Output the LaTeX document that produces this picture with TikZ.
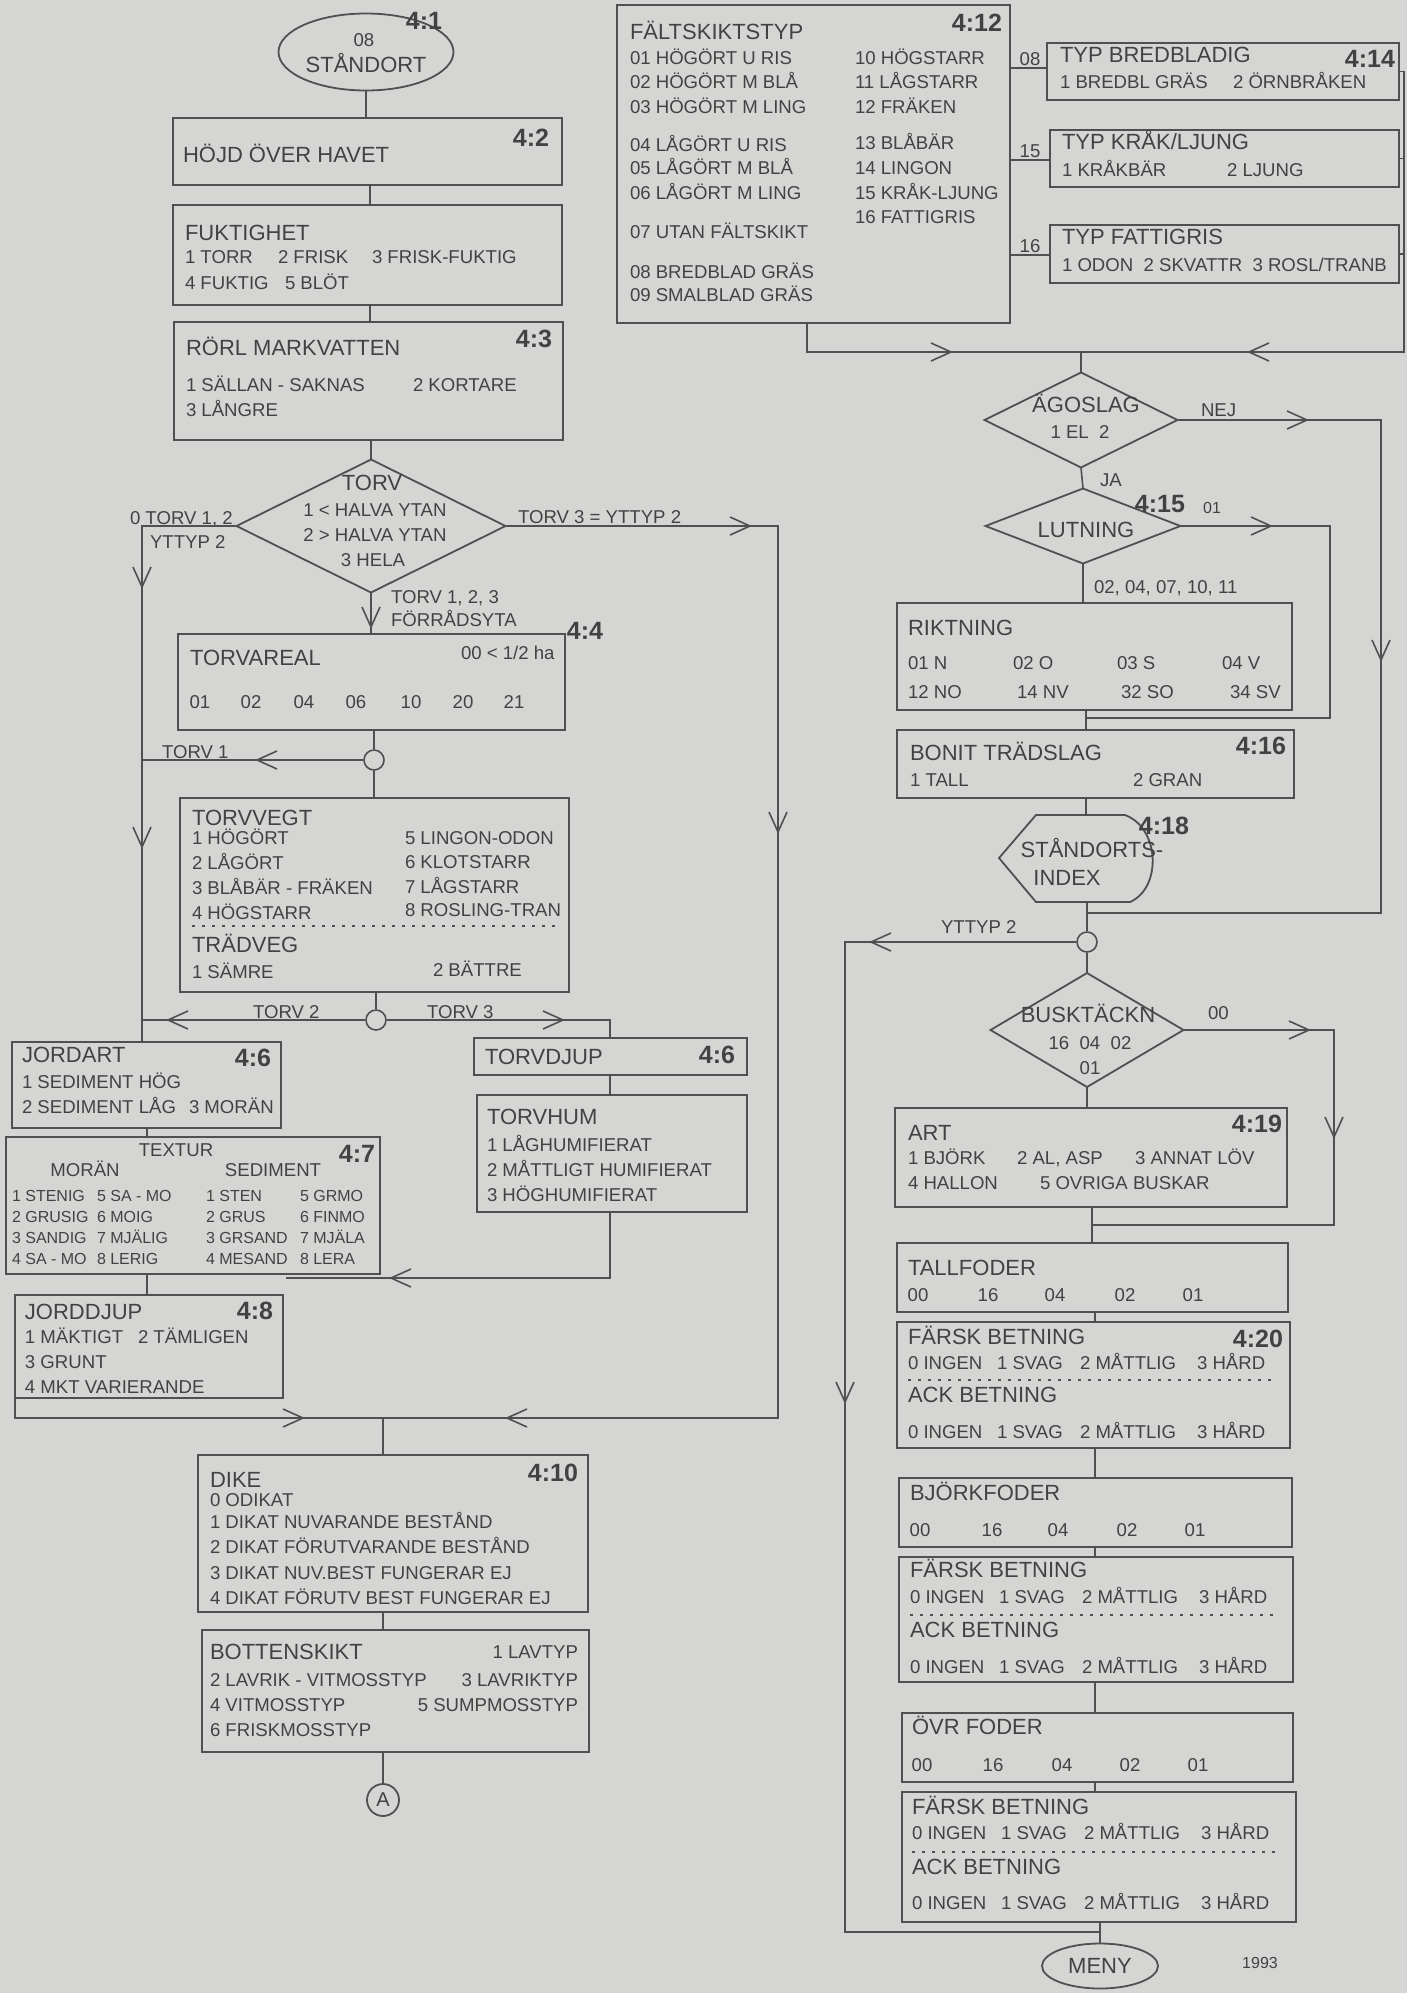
\documentclass[tikz,border=0pt]{standalone}
\usepackage{fontspec}
\setmainfont{Liberation Sans}
\usetikzlibrary{shapes.geometric,fit}
\definecolor{bg}{RGB}{213,213,211}
\definecolor{ink}{RGB}{66,66,66}
\definecolor{ln}{RGB}{80,80,80}
\newcounter{tn}
\newcommand\mytx[4]{\stepcounter{tn}\node[#1] (t\thetn) at (#2,#3) {#4};}
\newcommand\mybx[5]{\node[box, fit={(#2,#3) (#4,#5)}] (#1) {};}
\newcommand\mychv[3]{\pic[rotate=#1] at (#2,#3) {chev};}
\begin{document}
\begin{tikzpicture}[x=0.5pt,y=-0.5pt,
  box/.style={draw=ln, line width=0.9pt, inner sep=0pt, outer sep=0pt, rectangle},
  con/.style={draw=ln, line width=0.8pt},
  base/.style={text=ink, inner sep=0pt, outer sep=0pt, text depth=0pt},
  T/.style={base, anchor=west, font=\fontsize{11}{13}\selectfont, text height=7.9pt},
  TC/.style={T, anchor=center},
  R/.style={base, anchor=west, font=\fontsize{9.3}{11}\selectfont, text height=6.7pt},
  RC/.style={R, anchor=center},
  RE/.style={R, anchor=east},
  S/.style={base, anchor=west, font=\fontsize{8}{10}\selectfont, text height=5.7pt},
  SC/.style={S, anchor=center},
  N/.style={base, anchor=center, font=\bfseries\fontsize{12.5}{14}\selectfont, text height=9pt},
  jc/.style={circle, draw=ln, line width=0.8pt, minimum size=10pt, inner sep=0pt},
  dia/.style={diamond, draw=ln, line width=0.9pt, inner sep=0pt, outer sep=0pt},
  dots/.style={draw=ln, line width=0.6pt, dash pattern=on 1.5pt off 3.5pt},
  chev/.pic={\draw[ln, line width=0.8pt] (-10,-9) -- (10,0) -- (-10,9);}
]
\fill[bg] (0,0) rectangle (1407,1993);
\useasboundingbox (0,0) rectangle (1407,1993);

% ================= LEFT COLUMN =================
\node[ellipse, draw=ln, line width=0.9pt, minimum width=87.5pt, minimum height=38.5pt, inner sep=0pt] (st) at (366,52) {};
\mytx{RC}{364}{40}{08}
\mytx{TC}{366}{65}{STÅNDORT}
\mytx{N}{424}{20}{4:1}

\mybx{hojd}{173}{118}{562}{185}
\mytx{T}{183}{155}{HÖJD ÖVER HAVET}
\mytx{N}{531}{137}{4:2}

\mybx{fukt}{173}{205}{562}{305}
\mytx{T}{185}{233}{FUKTIGHET}
\mytx{R}{185}{257}{1 TORR}
\mytx{R}{278}{257}{2 FRISK}
\mytx{R}{372}{257}{3 FRISK-FUKTIG}
\mytx{R}{185}{283}{4 FUKTIG}
\mytx{R}{285}{283}{5 BLÖT}

\mybx{rorl}{174}{322}{563}{440}
\mytx{T}{186}{348}{RÖRL MARKVATTEN}
\mytx{N}{534}{338}{4:3}
\mytx{R}{186}{385}{1 SÄLLAN - SAKNAS}
\mytx{R}{413}{385}{2 KORTARE}
\mytx{R}{186}{410}{3 LÅNGRE}

\node[dia, minimum width=134.5pt, minimum height=66.5pt] (torv) at (371,526) {};
\mytx{TC}{372}{483}{TORV}
\mytx{RC}{375}{510}{1 < HALVA YTAN}
\mytx{RC}{375}{535}{2 > HALVA YTAN}
\mytx{RC}{373}{560}{3 HELA}
\mytx{R}{130}{518}{0 TORV 1, 2}
\mytx{R}{150}{542}{YTTYP 2}
\mytx{R}{518}{517}{TORV 3 = YTTYP 2}
\mytx{R}{391}{597}{TORV 1, 2, 3}
\mytx{R}{391}{620}{FÖRRÅDSYTA}
\mytx{N}{585}{630}{4:4}

\mybx{tarea}{178}{634}{565}{730}
\mytx{T}{190}{658}{TORVAREAL}
\mytx{R}{461}{653}{00 < 1/2 ha}
\mytx{RC}{200}{702}{01}
\mytx{RC}{251}{702}{02}
\mytx{RC}{304}{702}{04}
\mytx{RC}{356}{702}{06}
\mytx{RC}{411}{702}{10}
\mytx{RC}{463}{702}{20}
\mytx{RC}{514}{702}{21}

\node[jc] (c1) at (374,760) {};
\mytx{R}{162}{752}{TORV 1}

\mybx{tveg}{180}{798}{569}{992}
\mytx{T}{192}{818}{TORVVEGT}
\mytx{R}{192}{838}{1 HÖGÖRT}
\mytx{R}{192}{863}{2 LÅGÖRT}
\mytx{R}{192}{888}{3 BLÅBÄR - FRÄKEN}
\mytx{R}{192}{913}{4 HÖGSTARR}
\mytx{R}{405}{838}{5 LINGON-ODON}
\mytx{R}{405}{862}{6 KLOTSTARR}
\mytx{R}{405}{887}{7 LÅGSTARR}
\mytx{R}{405}{910}{8 ROSLING-TRAN}
\draw[dots] (192,926) -- (560,926);
\mytx{T}{192}{945}{TRÄDVEG}
\mytx{R}{192}{972}{1 SÄMRE}
\mytx{R}{433}{970}{2 BÄTTRE}

\node[jc] (c2) at (376,1020) {};
\mytx{R}{253}{1012}{TORV 2}
\mytx{R}{427}{1012}{TORV 3}

\mybx{jart}{12}{1042}{281}{1128}
\mytx{T}{22}{1055}{JORDART}
\mytx{N}{253}{1057}{4:6}
\mytx{R}{22}{1082}{1 SEDIMENT HÖG}
\mytx{R}{22}{1107}{2 SEDIMENT LÅG}
\mytx{R}{189}{1107}{3 MORÄN}

\mybx{tdj}{474}{1038}{747}{1075}
\mytx{T}{485}{1057}{TORVDJUP}
\mytx{N}{717}{1054}{4:6}

\mybx{thum}{477}{1095}{747}{1212}
\mytx{T}{487}{1117}{TORVHUM}
\mytx{R}{487}{1145}{1 LÅGHUMIFIERAT}
\mytx{R}{487}{1170}{2 MÅTTLIGT HUMIFIERAT}
\mytx{R}{487}{1195}{3 HÖGHUMIFIERAT}

\mybx{tex}{6}{1137}{380}{1274}
\mytx{RC}{176}{1150}{TEXTUR}
\mytx{N}{357}{1153}{4:7}
\mytx{RC}{85}{1170}{MORÄN}
\mytx{RC}{273}{1170}{SEDIMENT}
\mytx{S}{12}{1196}{1 STENIG}
\mytx{S}{97}{1196}{5 SA - MO}
\mytx{S}{206}{1196}{1 STEN}
\mytx{S}{300}{1196}{5 GRMO}
\mytx{S}{12}{1217}{2 GRUSIG}
\mytx{S}{97}{1217}{6 MOIG}
\mytx{S}{206}{1217}{2 GRUS}
\mytx{S}{300}{1217}{6 FINMO}
\mytx{S}{12}{1238}{3 SANDIG}
\mytx{S}{97}{1238}{7 MJÄLIG}
\mytx{S}{206}{1238}{3 GRSAND}
\mytx{S}{300}{1238}{7 MJÄLA}
\mytx{S}{12}{1259}{4 SA - MO}
\mytx{S}{97}{1259}{8 LERIG}
\mytx{S}{206}{1259}{4 MESAND}
\mytx{S}{300}{1259}{8 LERA}

\mybx{jdj}{15}{1295}{283}{1398}
\mytx{T}{25}{1312}{JORDDJUP}
\mytx{N}{255}{1310}{4:8}
\mytx{R}{25}{1337}{1 MÄKTIGT}
\mytx{R}{138}{1337}{2 TÄMLIGEN}
\mytx{R}{25}{1362}{3 GRUNT}
\mytx{R}{25}{1387}{4 MKT VARIERANDE}

\mybx{dike}{198}{1455}{588}{1612}
\mytx{T}{210}{1480}{DIKE}
\mytx{N}{553}{1472}{4:10}
\mytx{R}{210}{1500}{0 ODIKAT}
\mytx{R}{210}{1522}{1 DIKAT NUVARANDE BESTÅND}
\mytx{R}{210}{1547}{2 DIKAT FÖRUTVARANDE BESTÅND}
\mytx{R}{210}{1573}{3 DIKAT NUV.BEST FUNGERAR EJ}
\mytx{R}{210}{1598}{4 DIKAT FÖRUTV BEST FUNGERAR EJ}

\mybx{bot}{202}{1630}{589}{1752}
\mytx{T}{210}{1652}{BOTTENSKIKT}
\mytx{RE}{578}{1652}{1 LAVTYP}
\mytx{R}{210}{1680}{2 LAVRIK - VITMOSSTYP}
\mytx{RE}{578}{1680}{3 LAVRIKTYP}
\mytx{R}{210}{1705}{4 VITMOSSTYP}
\mytx{RE}{578}{1705}{5 SUMPMOSSTYP}
\mytx{R}{210}{1730}{6 FRISKMOSSTYP}

\node[circle, draw=ln, line width=0.9pt, minimum size=16pt, inner sep=0pt, text=ink, font=\fontsize{10}{12}\selectfont] (A) at (383,1800) {A};

% left connectors
\coordinate (xc) at (370,0);
\coordinate (xl) at (142,0);
\coordinate (xr) at (778,0);
\coordinate (jd) at (383,1418);
\coordinate (xt) at (610,0);
\coordinate (jt) at (286,1278);
\coordinate (xj) at (147,0);
\draw[con] (st.south) -- (st.south |- hojd.north);
\draw[con] (hojd.south -| xc) -- (fukt.north -| xc);
\draw[con] (fukt.south -| xc) -- (rorl.north -| xc);
\draw[con] (rorl.south -| torv.north) -- (torv.north);
\draw[con] (torv.west) -| (jart.north -| xl);
\draw[con] (torv.east) -| (xr |- jd) -- (jd);
\draw[con] (torv.south) -- (torv.south |- tarea.north);
\draw[con] (tarea.south -| c1) -- (c1.north);
\draw[con] (c1.south) -- (c1.south |- tveg.north);
\draw[con] (c1.west) -- (c1.west -| xl);
\draw[con] (tveg.south -| c2) -- (c2.north);
\draw[con] (c2.west) -- (c2.west -| xl);
\draw[con] (c2.east) -| (tdj.north -| xt);
\draw[con] (tdj.south -| xt) -- (thum.north -| xt);
\draw[con] (thum.south -| xt) |- (jt);
\draw[con] (jart.south -| xj) -- (tex.north -| xj);
\draw[con] (tex.south -| xj) -- (jdj.north -| xj);
\draw[con] (jdj.south west) |- (jd);
\draw[con] (jd) -- (dike.north -| jd);
\draw[con] (dike.south -| jd) -- (bot.north -| jd);
\draw[con] (bot.south -| jd) -- (A.north);

\mychv{-90}{142}{577}
\mychv{-90}{142}{837}
\mychv{0}{740}{526}
\mychv{-90}{778}{822}
\mychv{180}{517}{1418}
\mychv{0}{293}{1418}
\mychv{-90}{371}{617}
\mychv{180}{267}{760}
\mychv{180}{178}{1020}
\mychv{0}{553}{1020}
\mychv{180}{401}{1278}

% ================= RIGHT COLUMN =================
\mybx{falt}{617}{5}{1010}{323}
\mytx{T}{630}{32}{FÄLTSKIKTSTYP}
\mytx{N}{977}{22}{4:12}
\mytx{R}{630}{58}{01 HÖGÖRT U RIS}
\mytx{R}{630}{82}{02 HÖGÖRT M BLÅ}
\mytx{R}{630}{107}{03 HÖGÖRT M LING}
\mytx{R}{630}{145}{04 LÅGÖRT U RIS}
\mytx{R}{630}{168}{05 LÅGÖRT M BLÅ}
\mytx{R}{630}{193}{06 LÅGÖRT M LING}
\mytx{R}{630}{232}{07 UTAN FÄLTSKIKT}
\mytx{R}{630}{272}{08 BREDBLAD GRÄS}
\mytx{R}{630}{295}{09 SMALBLAD GRÄS}
\mytx{R}{855}{58}{10 HÖGSTARR}
\mytx{R}{855}{82}{11 LÅGSTARR}
\mytx{R}{855}{107}{12 FRÄKEN}
\mytx{R}{855}{143}{13 BLÅBÄR}
\mytx{R}{855}{168}{14 LINGON}
\mytx{R}{855}{193}{15 KRÅK-LJUNG}
\mytx{R}{855}{217}{16 FATTIGRIS}

\mybx{typ1}{1047}{43}{1399}{100}
\mytx{T}{1060}{55}{TYP BREDBLADIG}
\mytx{N}{1370}{58}{4:14}
\mytx{R}{1060}{82}{1 BREDBL GRÄS}
\mytx{R}{1233}{82}{2 ÖRNBRÅKEN}
\mybx{typ2}{1050}{130}{1399}{187}
\mytx{T}{1062}{142}{TYP KRÅK/LJUNG}
\mytx{R}{1062}{170}{1 KRÅKBÄR}
\mytx{R}{1227}{170}{2 LJUNG}
\mybx{typ3}{1050}{225}{1399}{283}
\mytx{T}{1062}{237}{TYP FATTIGRIS}
\mytx{R}{1062}{265}{1 ODON\ \ 2 SKVATTR\ \ 3 ROSL/TRANB}
\mytx{RC}{1030}{59}{08}
\mytx{RC}{1030}{151}{15}
\mytx{RC}{1030}{246}{16}

\node[dia, minimum width=96.5pt, minimum height=47.5pt] (ago) at (1081,420) {};
\mytx{TC}{1086}{405}{ÄGOSLAG}
\mytx{RC}{1080}{432}{1 EL\ \ 2}
\mytx{R}{1201}{410}{NEJ}
\mytx{R}{1100}{480}{JA}

\node[dia, minimum width=97.5pt, minimum height=37.5pt] (lut) at (1083,526) {};
\mytx{TC}{1086}{530}{LUTNING}
\mytx{N}{1160}{503}{4:15}
\mytx{SC}{1212}{508}{01}
\mytx{R}{1094}{587}{02, 04, 07, 10, 11}

\mybx{rik}{897}{603}{1292}{710}
\mytx{T}{908}{628}{RIKTNING}
\mytx{R}{908}{663}{01 N}
\mytx{R}{1013}{663}{02 O}
\mytx{R}{1117}{663}{03 S}
\mytx{R}{1222}{663}{04 V}
\mytx{R}{908}{692}{12 NO}
\mytx{R}{1017}{692}{14 NV}
\mytx{R}{1121}{692}{32 SO}
\mytx{R}{1230}{692}{34 SV}

\mybx{bon}{897}{730}{1294}{798}
\mytx{T}{910}{753}{BONIT TRÄDSLAG}
\mytx{N}{1261}{745}{4:16}
\mytx{R}{910}{780}{1 TALL}
\mytx{R}{1133}{780}{2 GRAN}

\draw[ln, line width=0.9pt] (1036,815) -- (1125,815) .. controls (1160,828) and (1162,888) .. (1130,902) -- (1036,902) -- (999,858) -- cycle;
\node[fit={(999,815) (1156,902)}, inner sep=0pt] (idx) {};
\mytx{TC}{1092}{850}{STÅNDORTS-}
\mytx{TC}{1067}{878}{INDEX}
\mytx{N}{1164}{825}{4:18}

\node[jc] (c3) at (1087,942) {};
\mytx{R}{941}{927}{YTTYP 2}

\node[dia, minimum width=96.5pt, minimum height=57pt] (busk) at (1087,1030) {};
\mytx{TC}{1088}{1015}{BUSKTÄCKN}
\mytx{RC}{1090}{1043}{16\ \ 04\ \ 02}
\mytx{RC}{1090}{1068}{01}
\mytx{R}{1208}{1013}{00}

\mybx{art}{895}{1108}{1287}{1207}
\mytx{T}{908}{1133}{ART}
\mytx{N}{1257}{1123}{4:19}
\mytx{R}{908}{1158}{1 BJÖRK}
\mytx{R}{1017}{1158}{2 AL, ASP}
\mytx{R}{1135}{1158}{3 ANNAT LÖV}
\mytx{R}{908}{1183}{4 HALLON}
\mytx{R}{1040}{1183}{5 OVRIGA BUSKAR}

\mybx{tall}{897}{1243}{1288}{1312}
\mytx{T}{908}{1268}{TALLFODER}
\mytx{RC}{918}{1295}{00}
\mytx{RC}{988}{1295}{16}
\mytx{RC}{1055}{1295}{04}
\mytx{RC}{1125}{1295}{02}
\mytx{RC}{1193}{1295}{01}

\mybx{f1}{897}{1322}{1290}{1448}
\mytx{T}{908}{1337}{FÄRSK BETNING}
\mytx{N}{1258}{1338}{4:20}
\mytx{R}{908}{1363}{0 INGEN}
\mytx{R}{997}{1363}{1 SVAG}
\mytx{R}{1080}{1363}{2 MÅTTLIG}
\mytx{R}{1197}{1363}{3 HÅRD}
\draw[dots] (908,1380) -- (1278,1380);
\mytx{T}{908}{1395}{ACK BETNING}
\mytx{R}{908}{1432}{0 INGEN}
\mytx{R}{997}{1432}{1 SVAG}
\mytx{R}{1080}{1432}{2 MÅTTLIG}
\mytx{R}{1197}{1432}{3 HÅRD}

\mybx{bj}{899}{1478}{1292}{1547}
\mytx{T}{910}{1493}{BJÖRKFODER}
\mytx{RC}{920}{1530}{00}
\mytx{RC}{992}{1530}{16}
\mytx{RC}{1058}{1530}{04}
\mytx{RC}{1127}{1530}{02}
\mytx{RC}{1195}{1530}{01}

\mybx{f2}{899}{1557}{1293}{1682}
\mytx{T}{910}{1570}{FÄRSK BETNING}
\mytx{R}{910}{1597}{0 INGEN}
\mytx{R}{999}{1597}{1 SVAG}
\mytx{R}{1082}{1597}{2 MÅTTLIG}
\mytx{R}{1199}{1597}{3 HÅRD}
\draw[dots] (910,1615) -- (1280,1615);
\mytx{T}{910}{1630}{ACK BETNING}
\mytx{R}{910}{1667}{0 INGEN}
\mytx{R}{999}{1667}{1 SVAG}
\mytx{R}{1082}{1667}{2 MÅTTLIG}
\mytx{R}{1199}{1667}{3 HÅRD}

\mybx{ovr}{902}{1713}{1293}{1782}
\mytx{T}{912}{1727}{ÖVR FODER}
\mytx{RC}{922}{1765}{00}
\mytx{RC}{993}{1765}{16}
\mytx{RC}{1062}{1765}{04}
\mytx{RC}{1130}{1765}{02}
\mytx{RC}{1198}{1765}{01}

\mybx{f3}{902}{1792}{1296}{1922}
\mytx{T}{912}{1807}{FÄRSK BETNING}
\mytx{R}{912}{1833}{0 INGEN}
\mytx{R}{1001}{1833}{1 SVAG}
\mytx{R}{1084}{1833}{2 MÅTTLIG}
\mytx{R}{1201}{1833}{3 HÅRD}
\draw[dots] (912,1852) -- (1282,1852);
\mytx{T}{912}{1867}{ACK BETNING}
\mytx{R}{912}{1903}{0 INGEN}
\mytx{R}{1001}{1903}{1 SVAG}
\mytx{R}{1084}{1903}{2 MÅTTLIG}
\mytx{R}{1201}{1903}{3 HÅRD}

\node[ellipse, draw=ln, line width=0.9pt, minimum width=58pt, minimum height=22.5pt, inner sep=0pt, text=ink, font=\fontsize{11}{13}\selectfont] (meny) at (1100,1966) {MENY};
\mytx{SC}{1260}{1963}{1993}

% right connectors
\coordinate (xf) at (807,0);
\coordinate (ja) at (1081,352);
\coordinate (xe) at (1404,0);
\coordinate (y1) at (0,68);
\coordinate (y2) at (0,160);
\coordinate (y3) at (0,255);
\coordinate (xn) at (1381,0);
\coordinate (ji) at (1087,913);
\coordinate (jb) at (1086,718);
\coordinate (xu) at (1330,0);
\coordinate (xy) at (845,0);
\coordinate (jm) at (1100,1932);
\coordinate (xb) at (1334,0);
\coordinate (jr) at (1092,1225);
\coordinate (xk) at (1095,0);
\draw[con] (falt.south -| xf) |- (ja);
\draw[con] (typ1.east) -| (xe |- ja) -- (ja);
\draw[con] (typ2.east) -- (typ2.east -| xe);
\draw[con] (typ3.east) -- (typ3.east -| xe);
\draw[con] (falt.east |- y1) -- (typ1.west |- y1);
\draw[con] (falt.east |- y2) -- (typ2.west |- y2);
\draw[con] (falt.east |- y3) -- (typ3.west |- y3);
\draw[con] (ja) -- (ago.north);
\draw[con] (ago.south) -- (lut.north);
\draw[con] (ago.east) -| (xn |- ji) -- (ji);
\draw[con] (lut.south) -- (lut.south |- rik.north);
\draw[con] (lut.east) -| (xu |- jb) -- (jb);
\draw[con] (rik.south -| jb) -- (bon.north -| jb);
\draw[con] (bon.south -| jb) -- (idx.north -| jb);
\draw[con] (idx.south -| c3) -- (c3.north);
\draw[con] (c3.west) -| (xy |- jm) -- (jm);
\draw[con] (c3.south) -- (busk.north);
\draw[con] (busk.east) -| (xb |- jr) -- (jr);
\draw[con] (busk.south) -- (busk.south |- art.north);
\draw[con] (art.south -| jr) -- (tall.north -| jr);
\draw[con] (tall.south -| xk) -- (f1.north -| xk);
\draw[con] (f1.south -| xk) -- (bj.north -| xk);
\draw[con] (bj.south -| xk) -- (f2.north -| xk);
\draw[con] (f2.south -| xk) -- (ovr.north -| xk);
\draw[con] (ovr.south -| xk) -- (f3.north -| xk);
\draw[con] (f3.south -| jm) -- (meny.north);

\mychv{0}{941}{352}
\mychv{180}{1259}{352}
\mychv{0}{1297}{420}
\mychv{-90}{1381}{650}
\mychv{0}{1261}{526}
\mychv{180}{881}{942}
\mychv{-90}{845}{1392}
\mychv{0}{1299}{1030}
\mychv{-90}{1334}{1127}
\end{tikzpicture}
\end{document}
